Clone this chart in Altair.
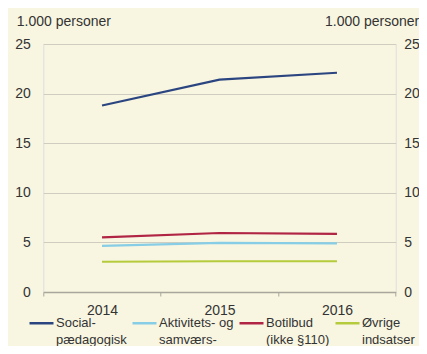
import altair as alt
import pandas as pd

years = ["2014", "2015", "2016"]
series = ["Social-|pædagogisk|støtte", "Aktivitets- og|samværs-|tilbud",
          "Botilbud|(ikke §110)| ", "Øvrige|indsatser| "]
social = [18.8, 21.4, 22.1]
aktiv = [4.65, 4.95, 4.9]
botilbud = [5.5, 5.95, 5.85]
ovrige = [3.05, 3.1, 3.1]
colors = ["#2B4580", "#86CDE5", "#B02444", "#B5CB3C"]
y_ticks = [0, 5, 10, 15, 20, 25]
y_title = "1.000 personer"

rows = []
for s, vals in zip(series, [social, aktiv, botilbud, ovrige]):
    for yr, v in zip(years, vals):
        rows.append({"year": yr, "series": s, "value": v})
df = pd.DataFrame(rows)

FONT = "Liberation Sans"
TXT = "#333333"
BG = "#F8F6E1"

x_enc = alt.X(
    "year:O",
    scale=alt.Scale(type="band", paddingInner=0, paddingOuter=0),
    axis=alt.Axis(title=None, labelAngle=0, tickBand="extent",
                  domainColor="#A8A79B", domainWidth=1.5,
                  tickColor="#A8A79B", tickSize=4, tickWidth=1,
                  labelPadding=7, labelFontSize=14, labelColor=TXT,
                  labelFont=FONT, grid=False),
)

yscale = alt.Scale(domain=[0, 25], nice=False)

lines = alt.Chart(df).mark_line(strokeWidth=2.2).encode(
    x=x_enc,
    y=alt.Y("value:Q", scale=yscale,
            axis=alt.Axis(values=y_ticks, title=y_title, titleAngle=0,
                          titleAlign="left", titleBaseline="alphabetic",
                          titleX=-27, titleY=-19, titleFontSize=14,
                          titleFontWeight="normal", titleColor=TXT, titleFont=FONT,
                          labelPadding=13, labelFontSize=14, labelColor=TXT,
                          labelFont=FONT, ticks=False, domain=False,
                          grid=True, gridColor="#CECDC0", gridWidth=1)),
    color=alt.Color(
        "series:N",
        scale=alt.Scale(domain=series, range=colors),
        sort=series,
        legend=alt.Legend(
            title=None, orient="none", legendX=-15.3, legendY=259.5,
            direction="horizontal", columns=4, columnPadding=0,
            symbolType="M-1,0.5L1,0.5", symbolSize=576, symbolStrokeWidth=2.5,
            labelExpr="split(datum.label, '|')", labelFontSize=13,
            labelFont=FONT, labelColor=TXT, labelBaseline="top",
            labelLimit=300, labelOffset=1, padding=0,
        ),
    ),
)

right = alt.Chart(df).mark_line(opacity=0).encode(
    x=x_enc,
    y=alt.Y("value:Q", scale=yscale,
            axis=alt.Axis(orient="right", values=y_ticks, title=y_title,
                          titleAngle=0, titleAlign="right",
                          titleBaseline="alphabetic", titleX=23, titleY=-19,
                          titleFontSize=14, titleFontWeight="normal",
                          titleColor=TXT, titleFont=FONT, labelPadding=8,
                          labelFontSize=14, labelColor=TXT, labelFont=FONT,
                          ticks=False, domain=False, grid=False)),
    detail="series:N",
)

chart = (
    alt.layer(lines, right)
    .resolve_scale(y="independent")
    .properties(
        width=352.4, height=248,
        autosize=alt.AutoSizeParams(type="none"),
        padding={"left": 35.3, "top": 36, "right": 23.3, "bottom": 54},
        background=BG,
    )
    .configure_view(stroke=None)
    .configure(style={"guide-label": {"lineHeight": 17}})
)

chart.save("out.html", embed_options={"renderer": "svg", "actions": False})
